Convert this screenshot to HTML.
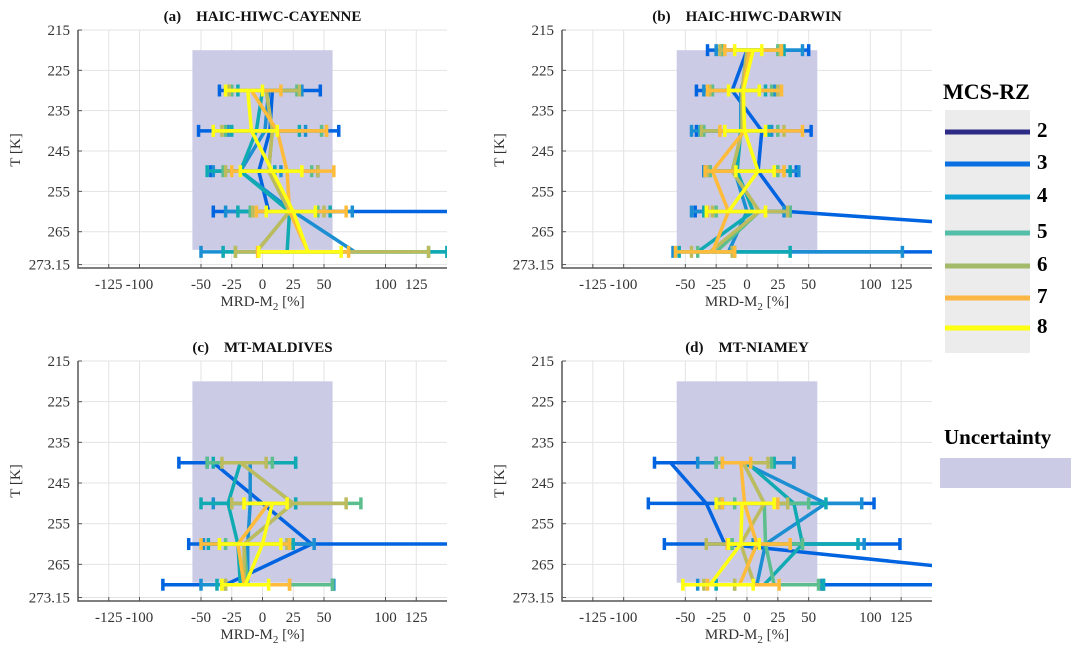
<!DOCTYPE html>
<html><head><meta charset="utf-8"><style>
body{margin:0;background:#fff;}
svg{display:block;font-family:"Liberation Serif",serif;}
.ttl{white-space:pre;}
</style></head><body>
<svg id="fig" width="1083" height="659" viewBox="0 0 1083 659">
<g id="legend">
<text x="943" y="99" font-size="22" font-weight="bold">MCS-RZ</text>
<rect x="945" y="110" width="85" height="243" fill="#ececec"/>
</g>
<g>
<text x="944" y="444" font-size="21" font-weight="bold">Uncertainty</text>
<rect x="940" y="458" width="131" height="30" fill="#cbcbe6"/>
</g>
</svg>
<script>
const xTicks=[-125,-100,-50,-25,0,25,50,100,125];
const yTicks=[215,225,235,245,255,265,273.15];
const xlim=[-150,150], ylim=[215,274];
const uncX=[-57,57], uncT=[220,269.5];
const seriesNames=['3','4','5','6','7','8','9'];
const seriesColors=['#0064e1','#1b8fd2','#10aab2','#5cbe8c','#bcbc5f','#ffbb3a','#ffff14'];
const legendLabels=['2','3','4','5','6','7','8'];
const legendColors=['#2e2b86','#0a6fe0','#0aa0d4','#55bea8','#a2ba6a','#fbb645','#ffff10'];

// Panel A
const A_T=[[230,240,250,260],[230,240,250,260,270],[230,240,250,260,270],[230,240,250,260,270],[230,240,250,260,270],[230,240,250,260,270],[230,240,250,260,270]];
const A_m=[[8,6,-3,5],[5,2,-18,25,75],[0,-5,-18,22,20],[3,8,5,22,-5],[3,8,5,22,-5],[-9,12,20,22,37],[-12,-9,8,25,37]];
const A_lo=[[-35,-52,-42,-40],[-30,-28,-40,-30,-50],[-20,-25,-45,-20,-32],[-25,-30,-32,-10,-22],[-27,-33,-30,-8,-22],[-30,-40,-25,-5,-4],[-30,-40,-18,3,-3]];
const A_hi=[[47,62,45,200],[32,35,15,73,150],[30,30,10,55,150],[28,48,40,45,135],[30,52,45,50,135],[15,52,58,68,70],[0,12,32,43,64]];
// Panel B
const B_T=[[220,230,240,250,260,270],[220,230,240,250,260,270],[220,230,240,250,260,270],[220,230,240,250,260,270],[220,230,240,250,260,270],[220,230,240,250,260,270],[220,230,240,250,260]];
const B_m=[[0,-12,12,9,33,500],[5,-5,-5,-10,0,-15],[3,-3,-5,-8,5,-40],[0,-4,-4,-12,10,-25],[0,-4,-4,-12,10,-30],[2,-3,-2,-28,-15,-28],[5,-3,-2,9,-15]];
const B_lo=[[-32,-41,-41,-35,-42,-10],[-25,-35,-45,-35,-45,-60],[-20,-30,-38,-30,-35,-55],[-20,-28,-35,-30,-25,-40],[-22,-30,-37,-32,-28,-45],[-18,-32,-22,-34,-32,-58],[-10,-15,-18,-9,-33]];
const B_hi=[[50,25,52,40,35,520],[45,22,20,42,30,126],[30,15,18,35,35,35],[25,20,25,25,35,-10],[27,25,30,30,33,-12],[28,28,45,30,15,-10],[12,10,15,22,15]];
// Panel C
const C_T=[[240,260,270],[240,250,260,270],[240,250,260,270],[240,250,260,270],[240,250,260,270],[250,260,270],[250,260,270]];
const C_m=[[-40,40,-30],[-10,-10,-12,-12],[-18,-28,-20,-18],[-18,25,-15,-12],[-18,25,-15,-15],[5,-20,-15],[8,0,-14]];
const C_lo=[[-68,-60,-81],[-45,-40,-48,-50],[-40,-50,-44,-37],[-45,-25,-30,-30],[-33,-25,-35,-30],[-15,-50,-33],[-15,-35,-33]];
const C_hi=[[27,200,57],[27,27,42,58],[27,27,25,57],[8,80,20,57],[3,68,20,22],[20,22,22],[20,15,5]];
// Panel D
const D_T=[[240,250,260,270],[240,250,260,270],[240,250,260,270],[240,250,260,270],[240,250,260,270],[240,250,260,270],[250,260,270]];
const D_m=[[-62,-33,-18,300],[-3,64,15,8],[0,38,45,14],[-3,14,15,22],[-3,14,-5,6],[-5,-2,8,-6],[-4,-5,-30]];
const D_lo=[[-75,-80,-67,62],[-40,-25,5,-40],[-25,-20,-15,-25],[-25,-10,-12,-10],[-20,-22,-33,-35],[-20,-20,-16,-32],[-25,-15,-52]];
const D_hi=[[38,103,124,320],[38,93,95,60],[22,64,90,62],[20,50,45,58],[17,33,35,-10],[3,25,35,26],[22,10,5]];

const NS='http://www.w3.org/2000/svg';
const svg=document.getElementById('fig');
function mk(tag,attrs,parent){const e=document.createElementNS(NS,tag);for(const k in attrs)e.setAttribute(k,attrs[k]);parent.appendChild(e);return e;}

const panels=[
 {id:'a',title:'HAIC-HIWC-CAYENNE',L:78,T:30,W:369,H:238,Tm:A_T,M:A_m,LO:A_lo,HI:A_hi},
 {id:'b',title:'HAIC-HIWC-DARWIN',L:562,T:30,W:370,H:238,Tm:B_T,M:B_m,LO:B_lo,HI:B_hi},
 {id:'c',title:'MT-MALDIVES',L:78,T:361,W:369,H:240,Tm:C_T,M:C_m,LO:C_lo,HI:C_hi},
 {id:'d',title:'MT-NIAMEY',L:562,T:361,W:370,H:240,Tm:D_T,M:D_m,LO:D_lo,HI:D_hi}
];

panels.forEach(p=>{
 const g=mk('g',{},svg);
 
 
 const xs=v=>p.L+(v-xlim[0])/(xlim[1]-xlim[0])*p.W;
 const ys=v=>p.T+(v-ylim[0])/(ylim[1]-ylim[0])*p.H;
 const clip=mk('clipPath',{id:'clip'+p.id},g);
 mk('rect',{x:p.L,y:p.T,width:p.W,height:p.H},clip);
 xTicks.forEach(t=>{const l=mk('line',{x1:xs(t),x2:xs(t),y1:p.T,y2:p.T+p.H,stroke:'#e3e3e3','stroke-width':1},g);
  
  });
 yTicks.forEach(t=>{const l=mk('line',{x1:p.L,x2:p.L+p.W,y1:ys(t),y2:ys(t),stroke:'#e3e3e3','stroke-width':1},g);
  
  });
 const r=mk('rect',{x:xs(uncX[0]),y:ys(uncT[0]),width:xs(uncX[1])-xs(uncX[0]),height:ys(uncT[1])-ys(uncT[0]),fill:'#cbcbe6'},g);
 
 
 const sg=mk('g',{'clip-path':'url(#clip'+p.id+')'},g);
 p.Tm.forEach((temps,si)=>{
  const col=seriesColors[si];
  const s=mk('g',{},sg);
  
  
  const pts=temps.map((t,i)=>xs(p.M[si][i])+','+ys(t)).join(' ');
  const pl=mk('polyline',{points:pts,fill:'none',stroke:col,'stroke-width':3.5,'stroke-linejoin':'round'},s);
  
  
  temps.forEach((t,i)=>{
   const y=ys(t),x1=xs(p.LO[si][i]),x2=xs(p.HI[si][i]);
   const e=mk('line',{x1:x1,x2:x2,y1:y,y2:y,stroke:col,'stroke-width':3.5},s);
   
   
   [x1,x2].forEach(x=>{const c=mk('line',{x1:x,x2:x,y1:y-6,y2:y+6,stroke:col,'stroke-width':3.5},s);
    
    });
  });
 });
 const ax=mk('path',{d:`M${p.L},${p.T} L${p.L},${p.T+p.H} L${p.L+p.W},${p.T+p.H}`,fill:'none',stroke:'#555','stroke-width':1.5},g);
 
 
 yTicks.forEach(t=>{
  mk('line',{x1:p.L,x2:p.L+4,y1:ys(t),y2:ys(t),stroke:'#555'},g);
  const tx=mk('text',{x:p.L-8,y:ys(t)+5,'text-anchor':'end','font-size':15,fill:'#333'},g);
  tx.textContent=String(t);
  
  
 });
 xTicks.forEach(t=>{
  mk('line',{x1:xs(t),x2:xs(t),y1:p.T+p.H,y2:p.T+p.H-4,stroke:'#555'},g);
  const tx=mk('text',{x:xs(t),y:p.T+p.H+21,'text-anchor':'middle','font-size':15,fill:'#333'},g);
  tx.textContent=String(t);
  
  
 });
 const xl=mk('text',{x:xs(0),y:p.T+p.H+38,'text-anchor':'middle','font-size':15,fill:'#333'},g);
 xl.innerHTML='MRD-M<tspan font-size="11" dy="4">2</tspan><tspan dy="-4"> [%]</tspan>';
 
 
 const yl=mk('text',{x:0,y:0,'text-anchor':'middle','font-size':15,fill:'#333',transform:`translate(${p.L-58},${p.T+120}) rotate(-90)`},g);
 yl.textContent='T [K]';
 
 
 const ti=mk('text',{x:xs(0),y:p.T-9,'text-anchor':'middle','font-size':15,'font-weight':'bold',fill:'#111','class':'ttl'},g);
 ti.textContent='('+p.id+')    '+p.title;
 
 
});

const lg=document.getElementById('legend');
const legendY=[132,164,197,233,266,298,328];
legendLabels.forEach((lab,i)=>{
 const l=mk('line',{x1:945,x2:1030,y1:legendY[i],y2:legendY[i],stroke:legendColors[i],'stroke-width':5},lg);
 
 
 const t=mk('text',{x:1037,y:legendY[i]+5,'font-size':21,'font-weight':'bold'},lg);
 t.textContent=lab;
 
 
});
</script>
</body></html>
